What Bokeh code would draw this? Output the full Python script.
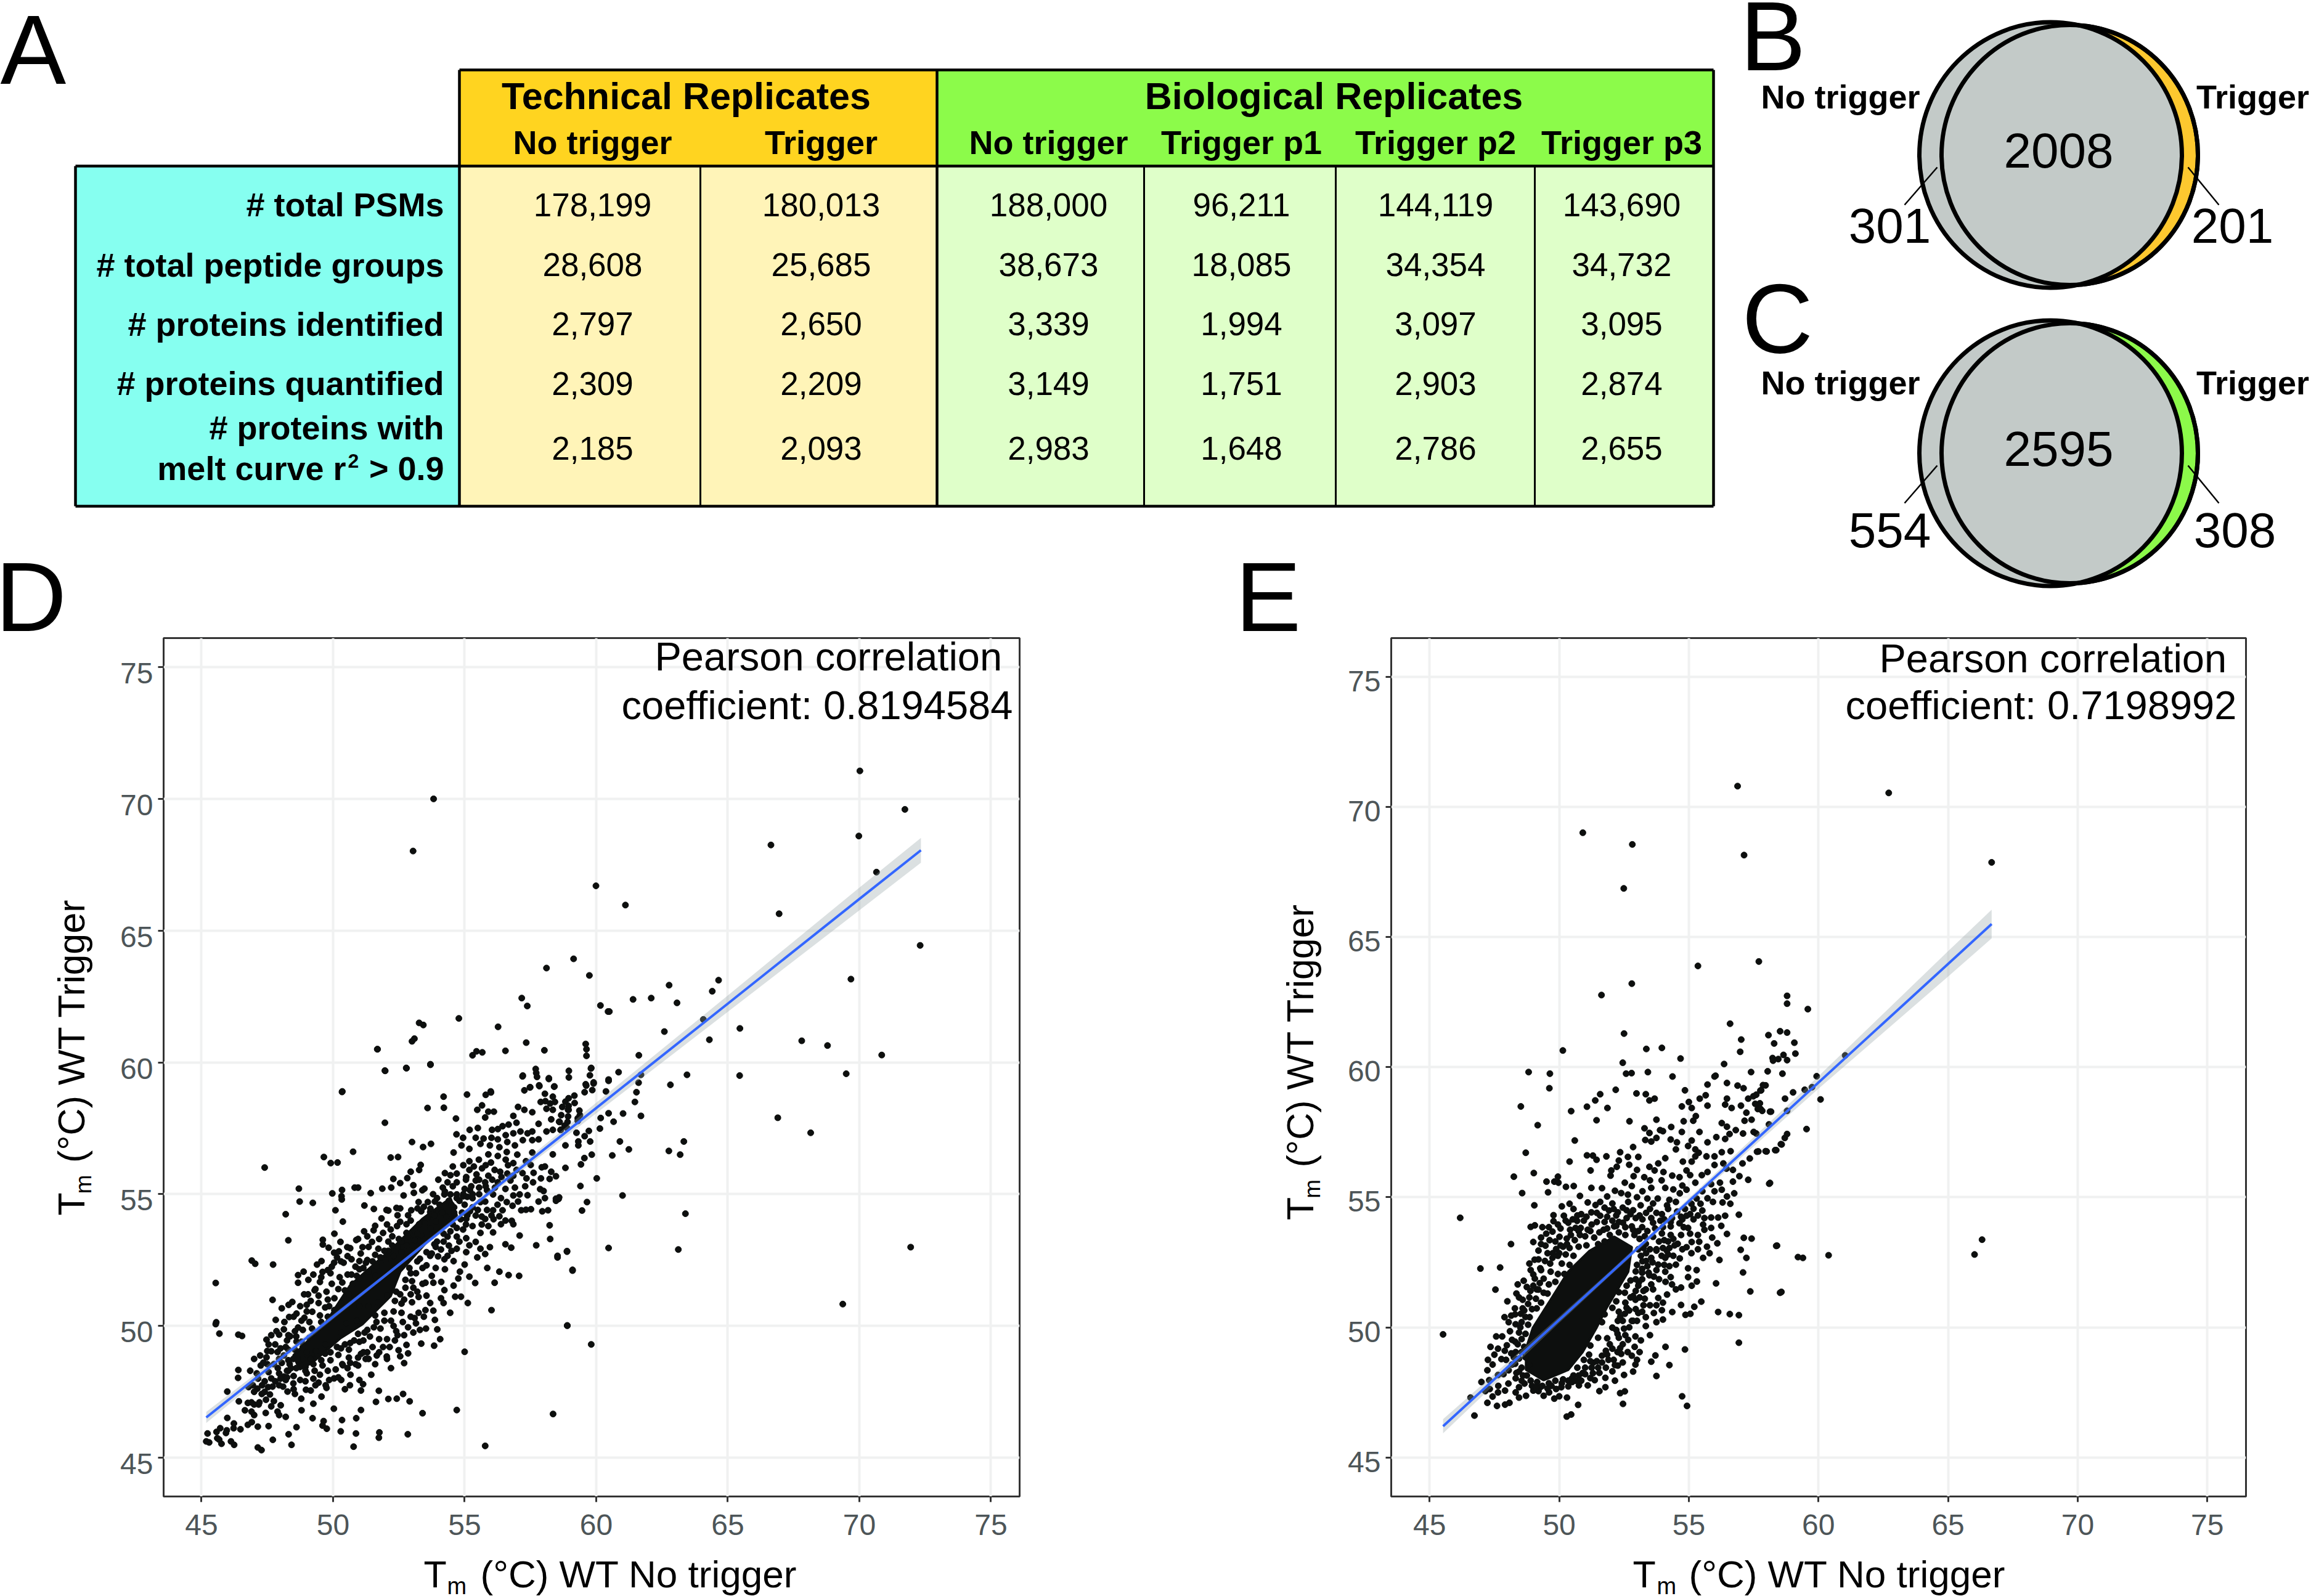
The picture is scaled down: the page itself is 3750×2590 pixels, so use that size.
import math
from bokeh.plotting import figure
from bokeh.layouts import column, row
from bokeh.embed import file_html
from bokeh.resources import INLINE
from bokeh.core.properties import value
from bokeh.models import Range1d, Label, LinearAxis, FixedTicker

SANS = "Liberation Sans"

# ---------- table data ----------
group_headers = ["Technical Replicates", "Biological Replicates"]
column_headers = ["No trigger", "Trigger", "No trigger", "Trigger p1", "Trigger p2", "Trigger p3"]
row_labels = ["# total PSMs", "# total peptide groups", "# proteins identified", "# proteins quantified", "# proteins with"]
total_psms = ["178,199", "180,013", "188,000", "96,211", "144,119", "143,690"]
peptide_groups = ["28,608", "25,685", "38,673", "18,085", "34,354", "34,732"]
proteins_identified = ["2,797", "2,650", "3,339", "1,994", "3,097", "3,095"]
proteins_quantified = ["2,309", "2,209", "3,149", "1,751", "2,903", "2,874"]
proteins_melt = ["2,185", "2,093", "2,983", "1,648", "2,786", "2,655"]

# ---------- Venn data ----------
venn_b = ["301", "2008", "201"]
venn_c = ["554", "2595", "308"]

# ---------- scatter data (T_m no trigger, T_m trigger) ----------
d_points = [
(53.82,70.0),(53.04,68.02),(59.99,66.7),(59.14,63.93),(58.11,63.58),(59.74,63.3),(57.17,62.44),(57.38,62.14),(60.16,62.16),(60.45,61.93),(60.5,61.93),(54.78,61.67),(53.27,61.5),(53.43,61.42),(56.27,61.35),(53.0,60.8),(53.09,60.9),(57.34,60.75),(51.68,60.5),(55.3,60.27),(55.45,60.42),(55.67,60.38),(56.55,60.44),(58.03,60.46),(59.6,60.7),(59.63,60.5),(51.98,59.68),(52.79,59.78),(53.7,59.91),(58.96,59.68),(59.8,59.77),(57.7,59.75),(57.72,59.6),(57.75,59.45),(57.2,59.47),(58.2,59.37),(58.4,59.08),(57.84,59.1),(57.48,59.05),(59.62,59.12),(59.9,59.2),(60.47,59.35),(50.35,58.9),(55.99,58.9),
(70.02,71.06),(71.73,69.6),(66.64,68.25),(69.98,68.59),(70.65,67.22),(61.11,65.97),(66.95,65.64),(72.31,64.44),(69.68,63.16),(61.4,62.39),(62.09,62.44),(62.77,62.93),(63.07,62.26),(64.41,62.7),(64.65,63.12),(64.07,61.63),(62.59,61.17),(65.46,61.29),(64.3,60.86),(67.81,60.82),(68.79,60.64),(70.85,60.28),(61.62,60.27),(69.5,59.57),(59.81,59.79),(60.85,59.63),(61.7,59.53),(63.45,59.53),(65.45,59.5),
(62.82,59.15),(61.61,59.23),(61.53,58.87),(61.47,58.5),(61.7,57.97),(61.02,58.06),(60.47,58.07),(60.47,59.3),(60.37,58.9),(60.17,57.89),(60.66,57.75),(60.14,57.49),(60.9,57.0),(61.24,56.7),(60.61,56.47),(63.33,57.0),(62.76,56.64),(63.19,56.5),(66.9,57.9),(68.15,57.33),(61.0,54.95),(63.39,54.26),(60.47,52.96),(63.12,52.9),(71.95,52.99),(69.37,50.83),(59.81,49.3),(58.9,50.01),(60.02,55.6),(59.4,55.31),(59.65,54.7),(59.46,54.38),(58.57,54.82),(58.47,54.75),(58.53,52.6),(58.89,52.84),(59.1,52.13),(58.83,56.0),(59.83,56.5),(59.55,56.37),(59.42,56.13),(59.77,57.0),(59.32,56.85),(59.32,57.0),(58.83,56.85),(59.25,57.33),(59.72,57.4),(59.56,57.2),(58.67,58.0),(58.93,57.95),(59.3,57.88),(59.38,58.0),(59.3,57.78),(58.95,58.35),(58.93,58.2),(59.18,58.46),(59.56,58.87),(59.85,58.95),(59.76,59.51),(58.96,59.43),(59.63,60.25),(58.61,57.74),(58.91,57.74),(58.65,57.44),(58.8,57.6),(58.43,58.5),
(45.54,51.63),(45.56,50.14),(45.54,50.07),(45.68,49.71),(46.4,49.67),(46.54,49.62),(46.4,48.33),(46.39,48.03),(45.98,47.51),(46.79,47.68),(46.42,47.14),(45.98,46.51),(46.23,46.3),(45.71,46.12),(45.57,45.98),(45.23,45.92),(46.22,46.12),(46.48,46.08),(45.96,46.04),(45.93,45.94),(45.6,45.74),(45.67,45.69),(45.18,45.62),(45.29,45.58),(45.76,45.53),(46.12,45.62),(46.24,45.49),(47.14,45.39),(47.28,45.29),(47.71,45.68),(48.42,45.49),(48.31,45.89),(48.61,46.16),(49.22,46.5),(49.64,46.39),(49.6,46.22),(49.76,46.1),(50.29,46.0),(50.87,45.92),(50.78,45.42),(51.76,45.96),(51.74,45.76),(52.84,45.89),(50.34,46.43),(50.88,46.5),(51.06,46.81),(50.03,46.86),(51.63,47.12),(51.74,47.54),(52.1,47.23),(52.42,47.24),(52.66,47.42),(52.91,47.14),(53.4,46.69),(54.7,46.81),(55.78,45.45),(58.36,46.66),(55.0,49.02),(58.9,50.02),(56.02,50.6),
(47.4,56.01),(48.2,54.24),(48.3,53.25),(46.91,52.48),(47.04,52.36),(47.72,52.33),(48.7,55.21),(48.73,54.72),(49.23,54.67),(49.65,56.41),(49.91,56.18),(50.17,56.2),(50.76,56.61),(50.34,58.88),(51.97,59.69),(52.78,59.79),(53.7,59.93),(51.69,60.5),(51.97,57.71),(53.59,58.27),(54.2,58.7),(54.21,58.28),(55.09,58.78),(54.67,57.87),(54.69,57.27),(52.19,56.39),(52.47,56.41),(53.0,56.98),(53.72,56.91),(53.42,56.79),(49.97,55.03),(50.34,55.16),(50.82,55.25),(50.95,55.25),(50.32,54.92),(50.33,54.8),(50.09,54.39),(50.37,53.96),(50.05,53.5),(51.19,54.57),(51.87,55.21),(52.21,55.25),(51.43,55.04),(51.55,54.44),(52.03,54.4),(52.1,54.38),(52.41,54.48),(52.55,54.46),(52.68,54.95),(52.29,55.58),(52.55,55.42),(52.82,55.61),(52.95,55.85),(53.05,55.34),(53.07,55.05),(53.39,55.15),(53.47,55.21),(53.27,55.92),(53.33,56.11),
(55.48,58.2),(55.66,58.37),(55.78,57.91),(55.9,58.13),(56.11,58.13),(55.8,58.77),(56.0,58.86),(57.21,59.5),(57.27,58.94),(57.49,59.06),(57.83,59.13),(58.2,59.4),(58.41,59.09),(58.05,58.81),(58.35,58.7),(57.89,58.5),(58.07,58.53),(58.25,58.44),(58.83,58.51),(58.95,58.64),(59.17,58.74),(59.36,58.17),(59.6,59.17),(59.9,59.24),(57.03,58.31),(57.27,58.2),(57.57,58.11),(56.85,57.97),(56.97,57.71),(56.67,57.64),(56.44,57.58),(56.04,57.44),(56.26,57.47),(55.5,57.51),(55.19,57.44),(54.94,57.14),(55.42,57.14),(55.72,57.11),(56.02,57.14),(56.26,57.08),(56.56,57.24),(56.85,57.31),(57.12,57.38),(57.39,57.31),(57.57,57.38),(57.81,57.67),(58.11,57.38),(58.35,57.44),(58.65,57.44),(58.89,57.51),(58.29,57.84),(58.11,58.24),(58.35,58.2),(58.71,58.31),(58.95,58.2),(58.59,57.75),
(54.58,56.58),(54.88,56.85),(55.18,56.72),(55.6,56.91),(55.96,56.85),(56.32,56.78),(56.62,56.98),(56.91,56.85),(57.21,57.05),(57.57,57.05),(57.81,57.08),(57.57,56.58),(57.33,56.25),(56.85,56.18),(55.9,56.51),(56.26,56.45),(55.18,56.25),(55.54,56.31),(56.56,56.31),(58.05,56.05),(58.29,55.85),(58.47,55.68),(57.93,56.02),(58.35,56.51),(57.62,55.81),(57.51,56.11),(56.97,55.92),(56.62,55.78),(56.14,55.92),(55.66,55.98),(55.18,55.92),(54.7,55.78),(54.46,55.72),(54.35,55.45),(54.7,55.45),(55.06,55.65),(55.42,55.52),(55.78,55.45),(56.26,55.45),(56.74,55.52),(56.91,55.25),(57.87,55.19),(58.0,55.12),(58.23,55.58),(58.47,54.83),(58.59,54.88),(57.81,54.72),(58.05,54.85),(57.09,54.99),(57.39,54.96),(56.82,54.56),(57.03,54.72),(57.15,54.39),(57.33,54.41),(57.52,54.43),(57.95,54.35),(58.17,54.39),(56.38,54.85),(56.08,54.99),(55.78,54.72),(55.3,54.85),(54.94,54.92),(54.7,54.99),(54.46,54.99),(54.17,55.25),(54.23,54.99),(53.87,54.72),(53.69,54.32),(53.45,54.52),(53.21,54.46),(52.97,54.39),
(56.08,54.39),(56.44,54.39),(56.02,54.19),(56.32,54.16),(55.78,54.06),(55.42,54.19),(55.06,54.06),(56.79,53.99),(56.85,53.86),(56.38,53.86),(55.9,53.79),(55.3,53.79),(54.94,53.66),(54.7,53.72),(54.46,53.59),(55.6,53.53),(56.08,53.55),(57.09,53.43),(55.42,53.19),(55.06,53.33),(54.7,53.39),(54.35,53.39),(56.55,53.1),(56.77,52.97),(57.72,53.06),(58.25,53.3),(58.23,53.82),(58.89,52.82),(58.53,52.66),(59.1,52.1),(55.96,52.99),(55.6,52.93),(55.78,52.73),(55.48,52.6),(55.18,53.06),(55.06,52.8),(54.7,52.93),(54.35,52.66),(53.99,52.64),(53.69,52.66),(54.58,52.46),(54.23,52.53),(55.0,52.33),(55.86,52.2),(56.32,52.06),(56.67,51.93),(57.07,51.9),(56.14,51.64),(55.4,51.63),(55.18,51.87),(54.82,52.06),(54.76,51.8),(54.58,51.53),(54.11,51.67),(53.81,51.64),(53.51,51.64),(54.64,51.11),(54.86,51.11),(54.2,50.87),(55.12,50.87),(54.23,51.36),(53.69,50.87),(53.51,50.6),(53.81,50.58),(53.87,50.23),(53.53,49.9),(53.96,49.87),(54.07,49.5),(53.84,49.25),(53.35,49.33),(52.79,49.28),(52.49,49.08),(52.85,48.96),(52.7,48.59),(52.04,48.84),(52.05,48.75),(51.66,48.88),(51.6,48.55),(51.24,48.75),(51.06,48.94),(50.66,48.15),(50.37,48.51),(50.86,48.55),(50.31,47.95),(50.64,47.75),(50.04,48.01),(51.14,47.79),(51.06,47.55),(49.56,47.32),(49.72,47.75),(49.33,47.75),(48.97,47.58),(48.79,47.24),(48.55,47.42),(48.27,47.51),(47.95,46.62),(47.89,46.75),(47.44,46.7),(47.0,46.62),(46.76,46.25),(46.91,46.35),(47.14,46.18),(46.76,47.08),(47.0,47.02),(47.17,47.02),(47.65,46.95),(48.01,46.99),(47.29,47.42),(47.12,47.62),(47.53,47.68),(47.95,47.75),(47.65,48.01),(48.13,48.08),(48.49,47.82),(47.35,48.61),(47.23,48.88),(47.47,48.81),(47.65,49.04),(47.89,49.01),(48.13,48.88),(48.49,48.75),(47.47,49.48),(47.65,49.65),(47.95,49.67),(48.13,49.87),(48.37,49.61),(48.61,49.41),(47.82,50.23),(47.7,50.99),(48.05,50.67),(48.45,50.91),(48.31,50.8),(48.61,50.47),(48.91,50.31),(48.33,50.34),(48.67,49.94),(49.21,50.54),(49.45,50.87),(49.8,51.0),(49.33,51.4),(49.5,51.67),(48.67,51.93),(48.67,51.64),(48.88,52.06),(49.06,51.75),(49.39,52.33),(49.56,52.46),(49.8,52.12),(50.04,52.4),(49.61,53.27),(49.61,53.09),(49.83,52.97),(50.04,52.78),(50.28,53.19),(50.54,52.99),(50.22,52.83),(50.88,53.26),(51.18,53.59),(51.54,53.63),(51.84,54.08),(52.19,53.66),(52.79,53.86),(53.27,53.86),(52.79,53.53),(52.43,53.79),(51.9,53.53),(51.48,53.19),(51.12,52.99),(50.7,52.53),(50.4,52.4),(51.0,52.46),(51.72,52.93),
(48.3,48.3),(48.6,48.4),(49.0,48.2),(49.3,48.3),(49.6,48.5),(49.9,48.7),(50.2,48.9),(50.6,49.1),(51.0,49.4),(51.4,49.6),(51.8,49.9),(52.2,50.2),(52.6,50.5),(53.0,50.9),(53.2,51.3),(53.0,51.7),(53.4,52.2),(53.9,53.0),(54.2,53.2),(55.0,54.6),(55.3,55.0),(55.6,54.7),(55.0,55.2),(54.6,54.5),(50.5,50.1),(51.3,52.5),(50.9,51.9),(50.2,51.4),(49.7,50.7),(49.2,49.9),(48.8,49.4),(48.3,49.1),(47.9,48.4),(47.4,47.9),(47.0,47.5),(46.9,47.1),(47.6,47.4),(48.1,47.7),(48.5,48.1),(49.0,49.0),(51.6,51.9),(52.1,53.2),(52.6,53.2),(53.1,53.6),(53.6,54.1),(54.1,54.4),(49.0,50.8),(48.9,51.2),(50.9,50.2),(51.6,50.4),(52.4,51.3),(52.9,52.2),(52.7,51.0),(53.1,50.3),(52.4,49.8),(51.9,49.2),(51.3,49.0),(50.6,48.8),
(47.2,47.1),(47.45,47.2),(47.75,47.15),(47.3,47.75),(47.8,47.9),(47.55,48.25),(47.95,48.2),(48.25,48.3),(47.75,48.55),(48.05,48.6),(48.35,48.55),(48.75,48.7),(48.2,49.2),(48.55,49.1),(48.85,49.2),(48.85,48.75),(49.15,48.75),(49.4,48.9),(49.7,48.95),(48.95,47.9),(49.25,48.0),(49.5,48.15),(49.8,48.3),(50.1,48.35),(48.75,47.95),(48.2,47.95),(48.5,47.6),(49.15,47.55),(49.45,47.85),(49.85,47.95),(50.35,48.55),(50.65,48.6),(50.95,48.8),(51.15,49.0),(50.15,49.2),(50.45,49.3),(50.8,49.45),(51.15,49.45),(51.5,49.2),(51.75,49.5),(52.05,49.5),(52.35,49.45),(52.7,49.65),(53.05,49.75),(51.2,49.75),(51.55,49.95),(51.95,50.2),(52.3,50.0),(52.65,50.15),(52.95,50.35),(53.25,50.5),(52.3,50.55),(52.6,50.85),(52.95,51.2),(53.25,51.1),(53.55,51.15),(52.75,51.45),(53.05,51.45),(53.4,51.6),(53.75,51.9),(53.15,52.0),(53.55,52.3),(53.9,52.2),(54.25,52.15),(53.3,52.55),(53.75,52.75),(54.1,52.9),(54.5,52.85),(53.95,53.2),(54.4,53.05),(54.8,53.2),(53.3,53.25),(53.1,53.25),(52.8,53.05),(52.45,53.0),(52.1,52.85),(51.8,52.6),(51.5,52.45),(51.15,52.2),(50.85,52.25),(50.55,51.95),(50.25,51.85),(49.95,51.6),(49.75,51.3),(49.45,51.15),(49.15,50.95),(49.0,50.55),(48.8,50.2),(49.5,50.4),(49.1,50.15),(48.55,49.8),(48.25,49.45),(47.8,49.3),(47.5,49.05),(47.25,48.5),(49.85,50.75),(50.05,51.05),(50.45,51.35),(50.75,51.6),(51.0,51.8),(51.35,52.05),(51.65,52.25),(52.0,52.5),(52.3,52.65),(52.6,52.8),(53.0,53.05),(53.35,53.45),(53.7,53.7),(53.9,53.95),(54.3,54.15),(54.6,54.3),(54.8,54.75),(54.4,54.75),(54.05,54.6),(53.7,54.45),(53.35,54.35),(52.95,54.0),(52.55,53.95),(52.25,53.4),(51.75,53.3),(51.35,53.0),(51.05,52.75),(50.55,52.65),(50.15,52.6),(49.95,52.25),(49.6,52.05),(49.25,51.95),(55.55,55.25),(55.85,55.15),(56.15,55.25),(56.55,55.2),(56.85,54.95),(55.25,55.3),(55.05,55.55),(55.5,54.4),(55.85,54.4),(56.25,54.6),(56.6,54.7),(56.55,54.0),(55.65,54.15),(55.2,54.35),(54.9,54.3),(55.05,53.85),(55.65,53.85),(56.1,54.05),(55.1,54.9),(55.45,55.75),(55.9,55.7),(56.4,55.65),(56.85,55.7),(57.2,55.8),(57.0,56.5),(56.6,56.6),(56.0,56.2),(55.35,56.05),(54.95,56.1),(54.55,56.05),(54.25,55.8),(54.0,55.55),(53.8,55.0),(57.3,55.3),(57.6,55.45),(57.35,55.6),(57.9,55.6),(54.1,51.05),(54.45,50.5),(53.3,49.85),(52.55,48.85),(52.2,48.4),(51.45,48.15),(51.0,47.95),(50.45,47.6),(49.25,47.05),(48.8,46.8),(48.2,46.55),(47.55,46.2),(46.9,46.75),(46.65,46.8),(51.0,50.75),(51.35,50.75),(51.7,50.9),(52.05,51.15),(50.3,49.75),(49.7,49.3),(49.35,49.05),(48.95,48.45),(47.1,48.2),(46.85,48.3),(47.0,48.75),
(47.4,47.5),(47.7,47.7),(48.0,48.0),(48.25,48.05),(48.4,48.4),(48.65,48.75),(48.3,48.7),(48.0,49.15),(48.3,49.65),(48.6,49.6),(48.85,49.85),(49.1,49.55),(49.35,49.75),(49.55,50.15),(49.8,50.35),(50.05,50.6),(50.3,50.85),(50.6,51.2),(50.35,51.65),(50.7,51.95),(51.0,52.15),(51.25,52.4),(51.6,52.7),(51.95,52.85),(52.25,53.05),(52.5,53.3),(52.85,53.4),(53.2,53.5),(53.5,53.9),(53.85,54.2),(54.15,54.3),(54.5,54.6),(54.7,54.85),(48.95,48.3),(49.25,48.55),(49.55,48.7),(49.9,49.0),(50.3,49.15),(50.65,49.35),(50.95,49.7),(51.3,49.85),(51.65,50.15),(51.95,50.5),(52.35,50.95),(52.55,51.2),(52.75,51.75),(52.95,52.0),(53.2,52.45),(53.55,52.8),(53.85,53.1),(54.2,53.5),(54.55,53.85),(54.85,54.05),(55.1,54.2),(55.3,54.5),(55.55,55.0),(55.8,55.3),(56.05,55.55),(56.35,55.85),(56.65,56.1),(55.8,56.1),(55.55,55.55),(55.2,55.15),(54.95,55.0),(54.55,55.3),(54.25,55.1),(53.95,54.85),(53.6,54.7),(53.25,54.7),(52.85,54.2),(52.45,54.2),(52.05,53.85),(51.6,53.8),(51.3,53.4),(50.95,53.3),(50.65,52.95),(50.3,52.45),(49.9,52.0),(49.55,51.85),(49.3,51.35),(49.05,51.2),(48.75,50.75),(48.5,50.35),(48.15,50.15),(47.85,49.8),(47.55,49.3),(47.15,48.0),(46.95,47.75),(47.5,48.55),(47.95,48.75),(49.75,47.65),(50.2,48.05),(50.55,48.4),(50.95,48.5),(51.35,48.75),(51.75,49.0),(52.15,49.2),(52.45,49.65),(52.85,49.95),(53.15,50.1),(53.45,50.35)
]

e_points = [
(56.88,70.8),(50.91,69.01),(52.82,68.56),(57.13,68.15),(52.49,66.87),(57.7,64.06),(55.35,63.89),(52.8,63.21),(51.63,62.77),(58.79,62.74),(58.79,62.44),(56.59,61.67),(52.5,61.29),(58.07,61.23),(58.52,61.38),(58.79,61.33),(57.02,61.06),(58.29,60.91),(56.98,60.59),(50.14,60.64),(53.36,60.7),(53.96,60.74),(54.68,60.33),(52.45,60.17),(56.36,60.12),(58.23,60.35),(58.25,60.25),(58.45,60.31),(58.65,60.47),(58.79,60.27),(48.82,59.81),(49.64,59.75),(52.58,59.75),(52.79,59.77),(53.42,59.81),(54.37,59.64),(56.03,59.67),(57.4,59.81),(58.04,59.84),(58.61,59.75),
(62.71,70.54),(66.68,67.87),(59.59,62.23),(59.07,60.94),(59.11,60.52),(59.93,59.65),(61.03,60.45),(59.02,59.03),(59.47,59.13),(59.75,59.23),(57.86,59.31),(57.79,59.11),(58.71,58.79),(60.08,58.76),(58.17,58.29),(58.79,58.32),(58.09,57.8),(59.54,57.62),(58.79,57.43),(58.7,57.28),(58.58,57.03),(58.37,56.81),(58.0,56.76),(57.68,56.76),(58.13,55.55),(58.4,53.14),(59.21,52.7),(59.4,52.67),(60.39,52.77),(58.57,51.36),(66.31,53.37),(66.02,52.8),(57.66,58.56),(57.74,58.61),(57.66,58.39),(57.77,58.39),(57.6,58.94),(57.6,57.45),
(45.52,49.73),(46.18,54.21),(46.96,52.26),(47.72,52.3),(47.54,51.45),(48.14,53.2),(47.89,50.39),(47.57,49.65),(46.58,47.3),(46.73,46.61),(47.6,46.98),(47.91,47.03),(48.08,47.1),(47.23,47.1),(47.43,47.34),(50.29,46.57),(50.46,46.65),(50.73,47.02),(52.46,47.06),(52.35,47.47),(52.53,47.54),(54.74,47.35),(54.93,46.98),(53.75,48.13),(53.55,48.68),(53.71,48.92),(54.1,49.25),(54.25,48.55),(54.85,49.15),(56.93,49.41),(54.87,50.48),(55.06,50.52),(56.13,50.59),(56.58,50.51),(56.93,50.47),(58.37,53.13),(58.52,51.33),(57.37,51.38),(57.09,52.11),(57.22,52.67),(57.0,52.98),(57.12,53.44),(57.42,53.41),(56.05,51.69),(56.18,52.59),(56.1,53.23),(55.55,52.67),(55.4,53.29),(56.47,53.59),(56.93,54.33),(58.1,55.52),(57.29,55.67),(56.95,55.81),(57.35,56.49),(57.07,56.3),(57.63,56.75),(57.96,56.77),(58.33,56.81),(58.55,57.04),
(48.52,58.49),(49.62,59.19),(49.17,57.77),(50.46,58.31),(51.07,58.48),(51.39,58.72),(51.58,58.96),(51.44,57.96),(51.86,58.43),(52.18,59.13),(52.71,57.92),(52.98,58.99),(53.34,58.96),(53.48,58.72),(53.68,58.79),(54.85,59.11),(54.73,58.49),(55.0,58.66),(55.11,58.43),(55.42,58.79),(55.72,58.52),(55.65,58.92),(55.72,59.33),(55.99,59.64),(56.47,59.39),(56.88,59.29),(57.11,59.19),(56.47,58.79),(56.4,58.56),(56.65,58.43),(57.01,58.52),(57.29,58.79),(57.49,58.88),(57.76,59.1),(57.96,59.3),(57.56,58.59),(57.22,58.25),(57.42,57.98),(57.15,57.94),(57.83,58.32),(58.13,58.29),(57.09,57.45),(57.5,57.51),(56.81,57.58),(56.57,57.43),(56.4,57.24),(56.06,57.31),(56.27,57.85),(56.47,57.71),
(48.25,55.79),(48.71,56.71),(48.57,55.16),(49.02,55.93),(49.51,55.6),(49.81,55.6),(49.95,55.79),(49.97,55.56),(49.57,55.19),(50.26,55.4),(50.56,55.43),(50.4,56.37),(50.6,57.18),(51.07,56.61),(51.3,56.6),(51.44,56.44),(51.21,56.03),(51.82,56.57),(52.35,56.73),(52.3,56.41),(52.22,56.17),(52.01,56.03),(51.98,55.83),(51.24,55.36),(51.1,54.8),(53.05,56.55),(52.85,56.93),(52.87,55.81),(53.29,57.65),(53.32,57.2),(53.48,57.47),(53.75,57.98),(53.55,57.14),(53.75,57.28),(53.89,57.58),(54.0,57.54),(54.32,57.7),(54.3,57.22),(54.54,57.11),(54.73,57.51),(54.8,57.92),(55.17,57.94),(55.27,58.12),(55.41,57.51),(55.72,57.11),(55.11,57.18),(54.5,56.84),(54.97,56.97),(55.25,56.84),(55.38,56.71),(54.77,56.37),(55.11,56.37),(55.25,56.57),(54.09,56.5),(53.82,56.3),(53.48,56.17),(53.68,56.03),(53.28,55.77),(54.02,55.97),(54.36,55.83),(54.64,55.77),(54.91,56.03),(55.68,56.57),(55.99,56.57),(56.27,56.73),(56.61,56.77),(55.99,56.24),(56.33,56.3),(55.72,55.97),(56.2,55.56),(55.86,55.5),(55.25,55.56),(54.91,55.29),(55.52,55.23),(55.72,54.96),(55.99,55.23),(56.27,55.29),(56.47,55.03),(55.93,54.82),(55.18,54.56),(54.91,54.29),(54.5,54.82),(54.16,54.69),(54.09,55.36),(53.55,55.36),(53.21,55.23),(52.8,55.43),(52.53,55.56),(52.39,55.16),(51.85,55.03),(51.58,54.82),(52.05,54.76),(52.66,54.82),(53.14,54.69),(53.62,54.76),(53.96,54.35),(54.3,53.88),(54.64,54.0),(54.97,53.82),(55.18,54.15),(55.52,54.49),(55.86,54.22),(56.13,54.22),(56.4,54.29),(55.86,53.82),(55.11,53.28),(54.91,53.08),(54.57,53.21),(54.09,52.67),(54.5,52.41),(54.97,52.27),(54.3,51.93),(54.97,51.93),(55.11,51.6),(55.31,51.76),(54.5,51.46),(54.7,51.53),(54.16,51.26),(53.82,51.13),(53.62,51.46),(53.96,50.66),(54.36,50.59),(54.7,50.86),(55.48,50.99),(55.21,50.79),(53.34,50.39),(53.34,50.05),(53.0,50.25),(52.8,50.25),(52.53,50.52),(52.94,49.65),(52.66,49.52),(52.91,49.25),(52.64,49.05),(52.39,48.98),(52.8,48.91),(53.0,48.75),(52.94,48.57),(52.26,48.53),(52.05,48.31),(52.5,48.17),(51.78,48.06),(51.78,47.7),(51.37,47.97),(51.3,48.24),(51.1,47.77),(50.76,47.77),(50.35,47.73),(50.08,47.7),(49.81,47.26),(49.4,47.37),(49.0,47.57),(48.72,47.37),(48.45,47.3),(48.32,47.5),(47.91,47.57),(47.64,47.5),(47.32,47.63),(47.3,47.97),(47.64,48.17),(47.23,48.35),(47.43,48.57),(47.77,48.78),(47.5,48.95),(47.64,49.18),(47.98,49.31),(48.18,49.52),(48.32,49.05),(48.18,48.57),(48.04,47.84),(48.32,48.04),(48.66,47.84),(49.27,47.7),(49.61,47.5),(49.88,47.63),(48.32,50.12),(48.52,50.52),(48.29,50.73),(48.59,51.06),(48.63,51.79),(49.0,52.03),(48.89,51.4),(49.13,51.46),(49.0,53.28),(48.9,53.86),(49.06,53.92),(49.04,54.69),(49.47,53.14),(49.63,53.35),(49.74,52.67),(49.88,53.01),(49.74,53.68),(49.78,54.31),(49.78,54.08),(50.18,54.29),(50.35,54.02),(50.52,54.15),(50.69,54.09),(50.42,53.75),(50.63,53.82),(50.83,53.82),(51.1,53.75),(51.24,54.42),(51.58,54.29),(51.92,54.49),(52.26,54.42),(52.12,53.88),(52.46,54.02),(52.8,53.88),(53.21,54.15),(53.62,54.02),(51.71,53.75),(50.01,53.48),(50.29,53.41),(49.27,52.27),(49.2,52.61),(49.06,51.87),(49.4,51.87),(49.67,52.14),(49.4,51.33),(48.59,50.73),(48.86,50.39),(49.13,50.73),(53.34,53.21),(53.62,53.48),(53.96,53.61),(53.21,52.54),(53.55,52.67),(53.82,52.41),(54.09,52.14),(53.48,52.0),(53.07,51.73),(53.34,51.46),(52.94,51.06),(52.53,51.33),(52.26,50.25),(52.05,49.99),(51.85,49.58),(52.05,49.18),(51.65,48.91),(51.31,48.64),(50.9,48.24),(50.49,48.04),
(47.85,48.2),(48.05,48.35),(47.95,48.75),(48.35,48.25),(48.55,48.45),(48.45,48.8),(48.15,49.0),(47.9,49.1),(48.4,49.35),(48.65,49.25),(48.1,49.85),(48.45,49.8),(48.7,49.75),(48.8,50.1),(48.55,50.2),(48.95,50.7),(48.8,50.9),(49.1,51.1),(49.3,50.95),(49.55,51.3),(49.25,51.7),(49.6,51.65),(49.85,51.75),(49.95,52.05),(50.2,52.05),(50.1,52.45),(50.4,52.4),(50.25,52.8),(50.55,52.75),(50.75,53.1),(51.05,53.15),(50.4,53.05),(51.0,53.5),(51.35,53.45),(51.5,53.2),(51.75,53.3),(51.95,53.55),(52.3,53.65),(52.55,53.55),(52.9,53.55),(53.1,53.4),(53.05,53.0),(53.15,52.75),(53.0,52.4),(52.95,52.15),(52.75,51.8),(52.6,51.6),(52.3,51.35),(52.2,51.0),(52.05,50.75),(51.75,50.5),(51.65,50.2),(51.5,49.6),(51.2,49.3),(51.15,48.95),(50.95,48.75),(50.7,48.45),(50.55,48.15),(50.15,48.0),(49.85,47.95),(49.6,47.85),(49.15,47.9),(48.9,47.95),(48.75,48.15),(48.6,48.15),(48.85,48.55),(48.7,48.85),(50.65,47.95),(51.0,48.2),(51.25,48.45),(51.5,48.45),(51.65,48.65),(51.9,48.75),(52.1,48.75),(51.85,48.95),(52.25,49.05),(52.45,49.35),(52.3,49.6),(52.2,49.9),(52.5,49.95),(52.7,50.0),(52.45,50.25),(52.3,50.6),(52.7,50.65),(52.95,50.7),(52.55,50.95),(52.75,51.15),(53.1,51.15),(52.95,51.4),(53.2,51.85),(52.95,51.85),(53.2,52.25),(53.4,52.35),(53.35,52.85),(53.5,53.0),(53.75,53.0),(53.85,53.3),(54.2,53.3),(54.3,53.55),(54.0,53.85),(53.7,53.8),(53.4,53.7),(53.2,53.85),(52.95,54.2),(52.6,54.2),(52.3,54.05),(52.05,54.1),(51.75,54.05),(51.45,54.05),(51.25,53.95),(50.95,54.1),(50.85,54.35),(51.4,54.7),(51.75,54.6),(52.1,54.55),(52.45,54.6),(52.85,54.5),(53.35,54.4),(53.75,54.4),(54.05,54.15),(54.35,54.2),(54.55,54.45),(54.85,54.55),(55.1,54.75),(55.3,54.95),(55.45,54.75),(54.75,54.15),(55.35,54.3),(55.6,54.2),(54.8,53.85),(55.05,53.6),(55.35,53.55),(55.6,53.75),(54.45,53.15),(54.25,53.05),(54.0,53.05),(54.2,52.8),(54.4,52.75),(54.65,52.65),(53.95,52.75),(54.05,52.4),(54.25,52.35),(53.75,52.2),(53.65,51.95),(53.85,51.85),(54.1,51.75),(54.35,51.65),(53.55,51.65),(53.3,51.1),(53.5,50.85),(53.75,50.85),(54.0,50.95),(53.65,50.55),(53.2,50.6),(54.15,52.95),(54.75,53.0),(53.4,54.95),(53.8,54.95),(54.25,54.9),(54.65,55.15),(53.0,55.0),(52.65,55.1),(52.15,55.25),(51.65,55.35),(50.8,55.05),(50.4,54.75),(50.1,54.65),(50.55,54.55),(49.5,53.6),(49.35,53.85),(49.3,53.45),(49.2,52.95),(49.55,52.85),(49.65,52.45),(48.85,52.45),(49.85,53.3),(50.15,53.1),(50.0,52.85),(48.4,51.65),(48.35,51.3),(48.0,51.0),(48.15,50.45),(48.05,50.2),(47.8,49.65),(47.35,49.25),(47.25,48.75),(47.0,47.9),(47.15,47.55),(47.65,47.75),(48.45,47.7),(49.2,47.55),(50.3,47.3),(50.0,47.35),(51.55,47.55),(52.15,47.95),(52.45,48.65),(52.85,48.3),(53.15,49.5),(53.1,49.05),(53.5,49.7),(53.75,50.2),(54.0,50.3),(53.25,50.85),(55.3,52.2),(55.1,52.85),(55.35,53.0),(55.7,53.1),(55.8,52.85),(55.55,53.95),(55.9,53.45),(56.25,53.9),(56.3,54.8),(56.6,54.75),(56.75,55.15),(56.7,55.6),(56.45,56.1),(56.7,56.05),(55.5,55.85),(55.05,55.85),(54.75,55.45),(54.4,55.3),(53.95,55.65),(53.5,55.65),(53.0,56.05),(52.7,56.25),(52.65,56.55),
(48.25,48.85),(48.55,49.05),(48.3,49.45),(48.55,49.55),(48.5,50.0),(48.7,50.4),(48.65,50.65),(48.85,51.15),(49.0,51.6),(49.2,51.45),(49.3,52.2),(49.45,52.55),(49.75,52.85),(49.95,52.75),(50.05,53.15),(50.3,53.2),(50.6,53.35),(50.8,53.55),(51.2,53.7),(51.55,53.65),(51.85,53.8),(52.2,53.9),(52.55,53.85),(52.85,53.75),(53.05,53.7),(53.3,53.5),(53.25,53.05),(53.35,52.55),(53.2,52.1),(53.05,51.6),(52.85,51.2),(52.6,50.75),(52.35,50.4),(52.25,49.75),(51.95,49.35),(51.8,49.1),(51.45,48.7),(51.2,48.7),(51.0,48.45),(50.75,48.15),(50.35,47.95),(50.1,47.85),(49.7,47.75),(49.35,47.75),(48.95,47.75),(48.55,47.95),(48.45,48.3),(48.3,48.6),(49.1,47.7),(49.55,47.65),(50.5,47.9),(50.85,47.95),(51.2,48.05),(51.55,48.25),(51.8,48.45),(52.15,48.55),(52.35,49.2),(52.55,49.7),(52.85,50.25),(53.05,50.55),(53.25,51.4),(53.45,52.1),(53.6,52.5),(53.75,52.95),(54.05,53.35),(54.4,53.4),(54.7,53.55),(54.3,54.05),(53.9,54.1),(53.55,54.2),(53.1,54.3),(52.75,54.35),(52.2,54.3),(51.85,54.25),(51.05,54.25),(50.7,54.3),(50.25,54.1),(49.95,53.95),(49.6,53.85),(49.3,53.2),(49.05,52.6),(48.9,52.2),(48.75,51.55),(48.45,51.15),(48.3,50.5),(50.05,53.8),(50.45,53.55),(50.75,53.7),(51.45,54.4),(52.6,54.5),(53.5,54.55),(54.2,54.55),(54.7,54.25),(55.05,54.35)
]

# solid, fully overplotted heart of each cloud
d_core_x = [48.49,49.68,50.64,52.31,53.39,54.46,54.7,53.51,52.55,52.19,51.12,50.28,49.21,48.73]
d_core_y = [48.88,50.07,51.53,53.0,54.06,54.85,54.19,53.13,52.06,51.14,50.07,49.54,48.61,48.35]
e_core_x = [48.72,48.99,49.67,50.35,51.17,52.12,52.8,52.66,51.85,51.44,50.9,50.35,49.4,48.72]
e_core_y = [49.18,49.99,51.06,52.14,52.94,53.48,53.08,52.14,50.79,49.99,49.05,48.37,47.97,48.37]

# regression lines and confidence bands
d_fit_x = [45.18,50,52,55,60,65,70,72.34]
d_fit_y = [46.53,50.35,51.93,54.31,58.27,62.23,66.2,68.05]
d_fit_lo = [46.32,50.26,51.86,54.22,58.07,61.92,65.77,67.58]
d_fit_hi = [46.74,50.44,52.0,54.4,58.47,62.54,66.63,68.52]
e_fit_x = [45.52,50,52,55,60,65,66.68]
e_fit_y = [46.2,50.29,52.11,54.85,59.41,63.97,65.5]
e_fit_lo = [45.93,50.17,52.02,54.74,59.17,63.48,64.95]
e_fit_hi = [46.47,50.41,52.2,54.96,59.65,64.46,66.05]
ticks = [45, 50, 55, 60, 65, 70, 75]

W, H, TOP_H, ROW_BOTTOM = 3750, 2590, 1030, 2530


def pixel_fig(x0, x1, y0, y1):
    """A bare figure whose data units are the page's own pixels."""
    f = figure(width=x1 - x0, height=y1 - y0, x_range=Range1d(x0, x1), y_range=Range1d(y1, y0),
               x_axis_type=None, y_axis_type=None, toolbar_location=None, output_backend="svg",
               min_border=0, outline_line_color=None)
    f.grid.visible = False
    return f


def txt(f, xs, ys, texts, size, bold=False, align="center", **kw):
    f.text(x=xs, y=ys, text=texts, text_font=value(SANS), text_font_size=value(f"{size}px"),
           text_font_style="bold" if bold else "normal", text_align=align, text_baseline="middle",
           text_color="#000000", **kw)


# ---------- top panel: table, Venn diagrams, panel letters ----------
top = pixel_fig(0, W, 0, TOP_H)
col_centres = [961, 1332, 1701, 2014, 2329, 2631]
row_centres = [332, 429, 525, 622, 727]
T0, T1, T2, LEFT = 113, 269, 821, 122
top.quad(left=[745, 1520], right=[1520, 2780], top=[T0, T0], bottom=[T1, T1], fill_color=["#FFD420", "#8CFB4A"], line_color=None)
top.quad(left=[LEFT, 745, 1520], right=[745, 1520, 2780], top=[T1]*3, bottom=[T2]*3,
         fill_color=["#86FFF0", "#FFF4B8", "#DFFFC9"], line_color=None)
top.multi_line(xs=[[745, 2780], [LEFT, 2780], [LEFT, 2780], [LEFT, LEFT], [745, 745], [1520, 1520], [2780, 2780]],
               ys=[[T0, T0], [T1, T1], [T2, T2], [T1, T2], [T0, T2], [T0, T2], [T0, T2]], line_color="#000000", line_width=4.5)
top.multi_line(xs=[[x, x] for x in (1136, 1856, 2167, 2490)], ys=[[T1, T2]]*4, line_color="#000000", line_width=3)
txt(top, [1113, 2164], [155, 155], group_headers, 61, True)
txt(top, col_centres, [230]*6, column_headers, 54, True)
txt(top, [720]*5, [331, 429, 525, 621, 693], row_labels, 54, True, "right")
txt(top, [561], [759], ["melt curve r"], 54, True, "right")
txt(top, [573], [747], ["2"], 32, True)
txt(top, [720], [759], ["> 0.9"], 54, True, "right")
for r, vals in zip(row_centres, [total_psms, peptide_groups, proteins_identified, proteins_quantified, proteins_melt]):
    txt(top, col_centres, [r]*6, vals, 53)

GREY = "#C3CAC8"
for cy, accent, nums, head_dy, num_dy, right_num_x in ((251, "#FDC82F", venn_b, -95, 115, 3622), (735, "#8CF94A", venn_c, -115, 125, 3626)):
    top.ellipse(x=[3358], y=[cy], width=[416], height=[422], fill_color=accent, line_color="#000000", line_width=7)
    top.ellipse(x=[3327], y=[cy], width=[426], height=[431], fill_color=GREY, line_color="#000000", line_width=7)
    top.ellipse(x=[3358], y=[cy], width=[416], height=[422], fill_color=None, line_color="#000000", line_width=7)
    top.multi_line(xs=[[3143, 3090], [3550, 3600]], ys=[[cy+20, cy+81], [cy+20, cy+81]], line_color="#000000", line_width=2.5)
    txt(top, [2986, 3655], [cy+head_dy]*2, ["No trigger", "Trigger"], 54, True)
    txt(top, [3066, 3340, right_num_x], [cy+num_dy, cy-7, cy+num_dy], nums, 80)

txt(top, [0, 2823, 2826], [80, 58, 516], ["A", "B", "C"], 160, False, "left")
txt(top, [0], [968], ["D"], 160, False, "left", x_offset=-8)
txt(top, [2004], [968], ["E"], 160, False, "left")


# ---------- scatter panels ----------
def scatter_panel(points, core_x, core_y, fit_x, fit_y, fit_lo, fit_hi, xr, yr, fig_left, fig_w, fl, fr,
                  label_shift, pearson, pearson_pos):
    ft, fb = 1035, 2428
    x0, x1 = xr
    y0, y1 = yr
    sx = lambda px: x0 + (px - fl) * (x1 - x0) / (fr - fl)
    sy = lambda py: y0 + (fb - py) * (y1 - y0) / (fb - ft)
    p = figure(width=fig_w, height=ROW_BOTTOM - TOP_H, x_range=Range1d(x0, x1), y_range=Range1d(y0, y1),
               toolbar_location=None, output_backend="svg",
               min_border_left=fl - fig_left, min_border_right=fig_left + fig_w - fr,
               min_border_top=ft - TOP_H, min_border_bottom=ROW_BOTTOM - fb,
               outline_line_color="#333333", outline_line_width=3)
    p.xaxis.ticker = FixedTicker(ticks=ticks)
    p.yaxis.ticker = FixedTicker(ticks=ticks)
    p.grid.ticker = FixedTicker(ticks=ticks)
    p.grid.grid_line_color = "#F0F1F1"
    p.grid.grid_line_width = 4
    p.xaxis.axis_line_color = None
    p.yaxis.axis_line_color = None
    for ax in (p.xaxis[0], p.yaxis[0]):
        ax.major_tick_in = 0
        ax.major_tick_out = 9
        ax.major_tick_line_color = "#333333"
        ax.major_tick_line_width = 3
        ax.minor_tick_line_color = None
        ax.major_label_text_color = "#4D5558"
        ax.major_label_text_font = SANS
        ax.major_label_text_font_size = "48px"
    p.xaxis.major_label_standoff = 20
    # tick marks on the main axis; the numbers sit a little below their ticks in the reference
    p.yaxis.major_label_overrides = {t: "" for t in ticks}
    p.yaxis.major_label_standoff = 0
    p.extra_y_ranges = {"labels": Range1d(y0 + label_shift, y1 + label_shift)}
    lab = LinearAxis(y_range_name="labels", ticker=FixedTicker(ticks=ticks), axis_line_color=None,
                     major_tick_line_color=None, minor_tick_line_color=None, major_tick_in=0, major_tick_out=0,
                     major_label_text_color="#4D5558", major_label_text_font=SANS,
                     major_label_text_font_size="48px", major_label_standoff=8)
    p.add_layout(lab, "left")

    p.patch(core_x, core_y, fill_color="#0D0F0E", line_color="#0D0F0E", line_width=4)
    p.scatter([a for a, b in points], [b for a, b in points], size=10, color="#0D0F0E")
    p.varea(x=fit_x, y1=fit_lo, y2=fit_hi, fill_color="#8FA0A3", fill_alpha=0.32)
    p.line(fit_x, fit_y, line_color="#3366FF", line_width=4)

    for px, py, t in ((pearson_pos[0], pearson_pos[1], "Pearson correlation"), (pearson_pos[2], pearson_pos[3], pearson)):
        p.add_layout(Label(x=sx(px), y=sy(py - 23), text=t, text_font=SANS, text_font_size="65px",
                           text_baseline="middle", text_color="#000000"))
    return p


pd = scatter_panel(d_points, d_core_x, d_core_y, d_fit_x, d_fit_y, d_fit_lo, d_fit_hi,
                   (43.56, 76.09), (43.53, 76.1), 160, 1740, 265, 1654, 0.234,
                   "coefficient: 0.8194584", (1062, 1088, 1008, 1167))
pe = scatter_panel(e_points, e_core_x, e_core_y, e_fit_x, e_fit_y, e_fit_lo, e_fit_hi,
                   (43.52, 76.49), (43.5, 76.49), 2160, 1590, 2257, 3644, 0.166,
                   "coefficient: 0.7198992", (3049, 1091, 2994, 1167))

# axis titles with their subscripts
left_strip = pixel_fig(0, 160, TOP_H, ROW_BOTTOM)
mid_strip = pixel_fig(1900, 2160, TOP_H, ROW_BOTTOM)
bottom_strip = pixel_fig(0, W, ROW_BOTTOM, H)
up = math.pi / 2
txt(left_strip, [115], [2039], ["T"], 61, False, "left", angle=up)
txt(left_strip, [135], [2001], ["m"], 37, False, "left", angle=up)
txt(left_strip, [115], [1947], ["(°C) WT Trigger"], 61, False, "left", angle=up)
txt(mid_strip, [2109], [2047], ["T"], 61, False, "left", angle=up)
txt(mid_strip, [2129], [2009], ["m"], 37, False, "left", angle=up)
txt(mid_strip, [2109], [1955], ["(°C) WT Trigger"], 61, False, "left", angle=up)
txt(bottom_strip, [687, 2649], [2554, 2554], ["T", "T"], 61, False, "left")
txt(bottom_strip, [725, 2688], [2573, 2573], ["m", "m"], 38, False, "left")
txt(bottom_strip, [779, 2740], [2554, 2554], ["(°C) WT No trigger", "(°C) WT No trigger"], 62, False, "left")

page = column(top, row(left_strip, pd, mid_strip, pe, spacing=0), bottom_strip, spacing=0)
open("out.html", "w").write(file_html(page, INLINE))
